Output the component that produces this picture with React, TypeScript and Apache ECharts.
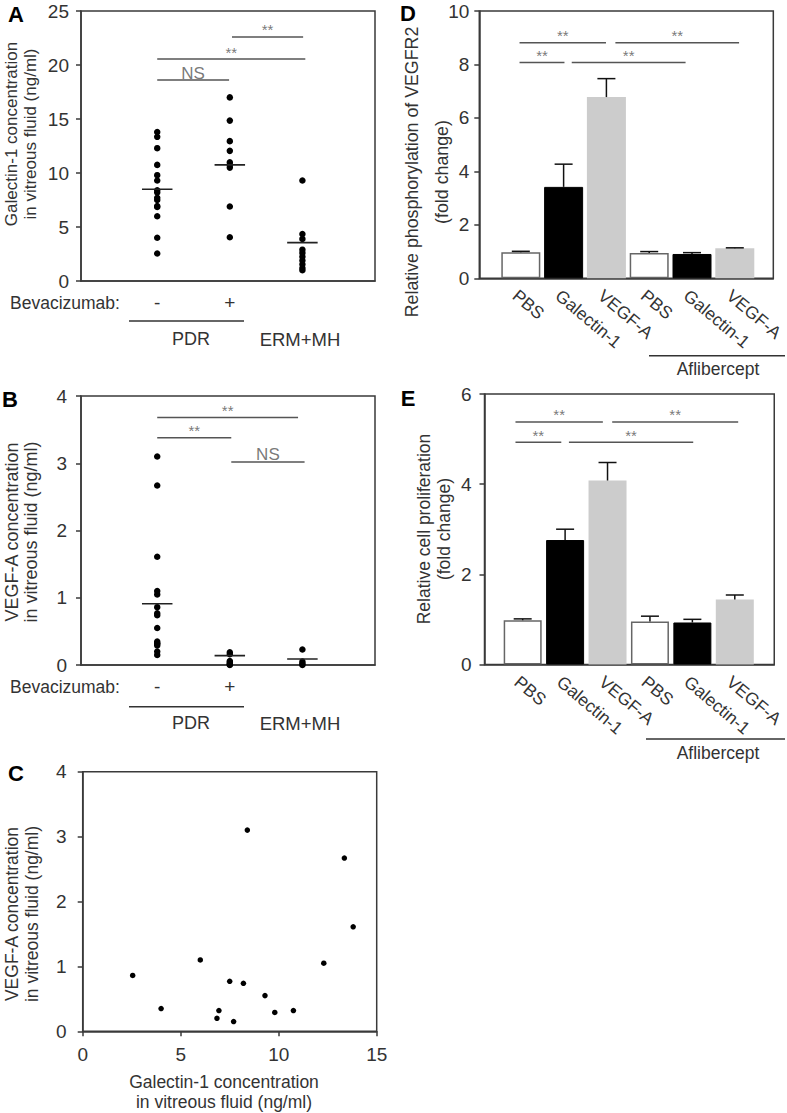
import React, { useEffect, useRef } from 'react';
import * as echarts from 'echarts';

const FONT = "'Liberation Sans', Arial, Helvetica, sans-serif";

// ---------- Panel A: Galectin-1 (ng/ml) ----------
const GROUP_POS = [1, 2, 3];
const BEV_POS = [1, 2];
const BEV_LABELS = ['-', '+'];
// Paired values (same PDR patients without bevacizumab) used in panels A/B/C
const C_GAL = [2.55, 4.0, 6.0, 6.85, 6.95, 7.5, 7.7, 8.2, 8.4, 9.3, 9.8, 10.75, 12.3, 13.35, 13.8];
const C_VEGF = [0.86, 0.35, 1.1, 0.2, 0.32, 0.77, 0.15, 0.74, 3.1, 0.55, 0.29, 0.32, 1.05, 2.67, 1.61];

const A_NO_BEV = C_GAL;
const A_BEV = [17.0, 14.85, 12.95, 12.05, 11.0, 10.75, 10.5, 6.9, 4.05];
const A_ERM = [9.3, 4.35, 3.9, 2.9, 2.6, 2.25, 1.9, 1.55, 1.2, 1.0];
const A_MEANS = [8.5, 10.75, 3.55];
const A_SIG_FROM = [1.0, 1.0, 2.03];
const A_SIG_TO = [1.99, 3.04, 3.01];
const A_SIG_Y = [18.6, 20.55, 22.6];
const A_SIG_TEXT = ['NS', '**', '**'];

// ---------- Panel B: VEGF-A (ng/ml) ----------
const B_NO_BEV = C_VEGF;
const B_BEV = [0.19, 0.16, 0.06, 0.04, 0.02, 0.01, 0.0];
const B_ERM = [0.23, 0.05, 0.02, 0.0];
const B_MEANS = [0.91, 0.14, 0.09];
const B_SIG_FROM = [1.0, 1.0, 2.02];
const B_SIG_TO = [2.94, 2.02, 3.03];
const B_SIG_Y = [3.68, 3.38, 3.02];
const B_SIG_TEXT = ['**', '**', 'NS'];

// ---------- Panels D / E ----------
const TREAT_POS = [1, 2, 3, 4, 5, 6];
const TREAT_LABELS = ['PBS', 'Galectin-1', 'VEGF-A', 'PBS', 'Galectin-1', 'VEGF-A'];
const TREAT_KIND = ['white', 'black', 'gray', 'white', 'black', 'gray'];

const D_MEAN = [0.97, 3.42, 6.78, 0.95, 0.91, 1.12];
const D_ERR_TOP = [1.01, 4.27, 7.47, 1.0, 0.96, 1.14];
const D_SIG_FROM = [0.97, 3.21, 0.97, 2.19];
const D_SIG_TO = [2.99, 6.1, 2.02, 4.85];
const D_SIG_Y = [8.81, 8.81, 8.07, 8.07];
const D_SIG_TEXT = ['**', '**', '**', '**'];

const E_MEAN = [0.98, 2.76, 4.08, 0.95, 0.93, 1.44];
const E_ERR_TOP = [1.01, 3.0, 4.48, 1.07, 1.0, 1.54];
const E_SIG_FROM = [0.83, 3.11, 0.83, 2.09];
const E_SIG_TO = [2.89, 6.08, 1.91, 5.02];
const E_SIG_Y = [5.38, 5.38, 4.93, 4.93];
const E_SIG_TEXT = ['**', '**', '**', '**'];

// ---------- styling ----------
const AXIS_COLOR = '#3a3a3a';
const TEXT_COLOR = '#333';
const SIG_COLOR = '#555';

const KIND_STYLE: Record<string, any> = {
  white: { color: '#ffffff', borderColor: '#666', borderWidth: 1.5 },
  black: { color: '#000000', borderColor: '#000', borderWidth: 1 },
  gray: { color: '#cccccc', borderWidth: 0 },
};

const axisLine = { show: true, onZero: false, lineStyle: { color: AXIS_COLOR, width: 1.5 } };
const tickOut = { show: true, inside: false, length: 5, lineStyle: { color: AXIS_COLOR, width: 1.5 } };
const labelBase = { color: TEXT_COLOR, fontSize: 19, fontFamily: FONT };

const pickLabel = (positions: number[], labels: string[]) => (v: number) => {
  const i = positions.findIndex((p) => Math.abs(p - v) < 1e-6);
  return i >= 0 ? labels[i] : '';
};

function sigSeries(ax: number, from: number[], to: number[], ys: number[], texts: string[]) {
  const out: any[] = [];
  from.forEach((f, i) => {
    out.push({
      type: 'line',
      xAxisIndex: ax,
      yAxisIndex: ax,
      data: [
        [f, ys[i]],
        [to[i], ys[i]],
      ],
      symbol: 'none',
      silent: true,
      clip: false,
      lineStyle: { color: SIG_COLOR, width: 1.5 },
      z: 4,
    });
    const isNS = texts[i] === 'NS';
    out.push({
      type: 'scatter',
      xAxisIndex: ax,
      yAxisIndex: ax,
      data: [[(f + to[i]) / 2, ys[i]]],
      symbolSize: 1,
      silent: true,
      itemStyle: { color: 'rgba(0,0,0,0)' },
      label: {
        show: true,
        position: 'top',
        distance: isNS ? -2 : -1,
        formatter: texts[i],
        color: SIG_COLOR,
        fontSize: isNS ? 17 : 15,
        fontFamily: FONT,
      },
      z: 4,
    });
  });
  return out;
}

function dotSeries(ax: number, groups: number[][], means: number[]) {
  const out: any[] = [];
  const data: number[][] = [];
  groups.forEach((vals, gi) => vals.forEach((v) => data.push([GROUP_POS[gi], v])));
  out.push({
    type: 'scatter',
    xAxisIndex: ax,
    yAxisIndex: ax,
    data,
    symbolSize: 6.5,
    itemStyle: { color: '#000', opacity: 1 },
    silent: true,
    z: 3,
  });
  means.forEach((m, gi) => {
    out.push({
      type: 'line',
      xAxisIndex: ax,
      yAxisIndex: ax,
      data: [
        [GROUP_POS[gi] - 0.21, m],
        [GROUP_POS[gi] + 0.21, m],
      ],
      symbol: 'none',
      silent: true,
      lineStyle: { color: '#222', width: 1.6 },
      z: 4,
    });
  });
  return out;
}

function barSeries(ax: number, means: number[], tops: number[], width: number) {
  return [
    {
      type: 'bar',
      xAxisIndex: ax,
      yAxisIndex: ax,
      barWidth: width,
      silent: true,
      data: TREAT_POS.map((p, i) => ({ value: [p, means[i]], itemStyle: KIND_STYLE[TREAT_KIND[i]] })),
      z: 2,
    },
    {
      type: 'custom',
      xAxisIndex: ax,
      yAxisIndex: ax,
      silent: true,
      encode: { x: 0, y: 1 },
      data: TREAT_POS.map((p, i) => [p, means[i], tops[i]]),
      renderItem: (params: any, api: any) => {
        const x = api.value(0);
        const p0 = api.coord([x, api.value(1)]);
        const p1 = api.coord([x, api.value(2)]);
        const st = { stroke: '#111', lineWidth: 1.5 };
        return {
          type: 'group',
          children: [
            { type: 'line', shape: { x1: p0[0], y1: p0[1], x2: p1[0], y2: p1[1] }, style: st },
            { type: 'line', shape: { x1: p1[0] - 9, y1: p1[1], x2: p1[0] + 9, y2: p1[1] }, style: st },
          ],
        };
      },
      z: 3,
    },
  ];
}

const gText = (
  x: number,
  y: number,
  text: string,
  size: number,
  opts: { rotation?: number; align?: string; lineHeight?: number; weight?: string; color?: string } = {}
) => ({
  type: 'text',
  x,
  y,
  rotation: opts.rotation || 0,
  silent: true,
  style: {
    text,
    fill: opts.color || TEXT_COLOR,
    fontSize: size,
    fontFamily: FONT,
    fontWeight: opts.weight || 'normal',
    align: opts.align || 'center',
    verticalAlign: 'middle',
    lineHeight: opts.lineHeight || size * 1.15,
  },
});

const gLine = (x1: number, y1: number, x2: number, y2: number) => ({
  type: 'line',
  silent: true,
  shape: { x1, y1, x2, y2 },
  style: { stroke: '#333', lineWidth: 1.5 },
});

function treatAxis(gridIndex: number, min: number, max: number) {
  return {
    gridIndex,
    type: 'value',
    min,
    max,
    splitNumber: 7,
    axisLine,
    axisTick: { show: false },
    splitLine: { show: false },
    axisLabel: {
      ...labelBase,
      fontSize: 17.5,
      rotate: -40,
      margin: 8,
      verticalAlign: 'top',
      customValues: TREAT_POS,
      formatter: pickLabel(TREAT_POS, TREAT_LABELS),
    },
  };
}

function groupAxis(gridIndex: number) {
  return {
    gridIndex,
    type: 'value',
    min: -0.05,
    max: 4,
    axisLine,
    axisTick: { show: false },
    splitLine: { show: false },
    axisLabel: { ...labelBase, margin: 12, customValues: BEV_POS, formatter: pickLabel(BEV_POS, BEV_LABELS) },
  };
}

function buildOption() {
  const grids = [
    { left: 81, top: 11, width: 294, height: 270 },
    { left: 81, top: 396, width: 294, height: 269 },
    { left: 82.7, top: 771.7, width: 294, height: 259.6 },
    { left: 479.3, top: 11, width: 299, height: 267.3 },
    { left: 484.5, top: 394, width: 292, height: 270.4 },
  ].map((g) => ({ ...g, show: true, borderColor: AXIS_COLOR, borderWidth: 1.5, containLabel: false }));

  const xAxis = [
    groupAxis(0),
    groupAxis(1),
    {
      gridIndex: 2,
      type: 'value',
      min: 0,
      max: 15,
      interval: 5,
      axisLine,
      axisTick: tickOut,
      splitLine: { show: false },
      axisLabel: { ...labelBase, margin: 14 },
    },
    treatAxis(3, 0.03, 6.9),
    treatAxis(4, 0.1, 6.93),
  ];

  const yAxis = [
    { gridIndex: 0, min: 0, max: 25, interval: 5, margin: 12 },
    { gridIndex: 1, min: 0, max: 4, interval: 1, margin: 14 },
    { gridIndex: 2, min: 0, max: 4, interval: 1, margin: 16 },
    { gridIndex: 3, min: 0, max: 10, interval: 2, margin: 10 },
    { gridIndex: 4, min: 0, max: 6, interval: 2, margin: 13 },
  ].map((a) => ({
    gridIndex: a.gridIndex,
    type: 'value',
    min: a.min,
    max: a.max,
    interval: a.interval,
    axisLine,
    axisTick: tickOut,
    splitLine: { show: false },
    axisLabel: { ...labelBase, margin: a.margin },
  }));

  const series: any[] = [
    ...dotSeries(0, [A_NO_BEV, A_BEV, A_ERM], A_MEANS),
    ...sigSeries(0, A_SIG_FROM, A_SIG_TO, A_SIG_Y, A_SIG_TEXT),
    ...dotSeries(1, [B_NO_BEV, B_BEV, B_ERM], B_MEANS),
    ...sigSeries(1, B_SIG_FROM, B_SIG_TO, B_SIG_Y, B_SIG_TEXT),
    {
      type: 'scatter',
      xAxisIndex: 2,
      yAxisIndex: 2,
      data: C_GAL.map((g, i) => [g, C_VEGF[i]]),
      symbolSize: 5.5,
      itemStyle: { color: '#000', opacity: 1 },
      silent: true,
    },
    ...barSeries(3, D_MEAN, D_ERR_TOP, 39),
    ...sigSeries(3, D_SIG_FROM, D_SIG_TO, D_SIG_Y, D_SIG_TEXT),
    ...barSeries(4, E_MEAN, E_ERR_TOP, 38),
    ...sigSeries(4, E_SIG_FROM, E_SIG_TO, E_SIG_Y, E_SIG_TEXT),
  ];

  const R = Math.PI / 2;
  const graphic = [
    // panel letters
    gText(16, 14.5, 'A', 22, { weight: 'bold', color: '#000' }),
    gText(10, 399.5, 'B', 22, { weight: 'bold', color: '#000' }),
    gText(16, 773.5, 'C', 22, { weight: 'bold', color: '#000' }),
    gText(408, 13, 'D', 22, { weight: 'bold', color: '#000' }),
    gText(408, 398.5, 'E', 22, { weight: 'bold', color: '#000' }),
    // axis titles
    gText(20.5, 134, 'Galectin-1 concentration\nin vitreous fluid (ng/ml)', 17, { rotation: R, lineHeight: 19 }),
    gText(21, 532, 'VEGF-A concentration\nin vitreous fluid (ng/ml)', 18, { rotation: R, lineHeight: 19 }),
    gText(22, 914, 'VEGF-A concentration\nin vitreous fluid (ng/ml)', 17.5, { rotation: R, lineHeight: 20.5 }),
    gText(224, 1091.7, 'Galectin-1 concentration\nin vitreous fluid (ng/ml)', 17.5, { lineHeight: 20 }),
    gText(427, 172, 'Relative phosphorylation of VEGFR2\n(fold change)', 17.8, { rotation: R, lineHeight: 30 }),
    gText(434, 529, 'Relative cell proliferation\n(fold change)', 17.5, { rotation: R, lineHeight: 20 }),
    // group labels A
    gText(10, 303, 'Bevacizumab:', 17.5, { align: 'left' }),
    gLine(129, 321, 244, 321),
    gText(191, 339, 'PDR', 18),
    gText(300, 339, 'ERM+MH', 18.5),
    // group labels B
    gText(10, 686.7, 'Bevacizumab:', 17.5, { align: 'left' }),
    gLine(129, 706.7, 244, 706.7),
    gText(191, 723, 'PDR', 18),
    gText(300, 723, 'ERM+MH', 18.5),
    // Aflibercept D / E
    gLine(649, 355.7, 785, 355.7),
    gText(718, 369, 'Aflibercept', 17.5),
    gLine(646, 739, 785, 739),
    gText(718, 753, 'Aflibercept', 17.5),
  ];

  return {
    animation: false,
    backgroundColor: '#ffffff',
    grid: grids,
    xAxis,
    yAxis,
    series,
    graphic,
  };
}

export default function App() {
  const ref = useRef<HTMLDivElement>(null);
  useEffect(() => {
    if (!ref.current) return;
    const chart = echarts.init(ref.current, null, { renderer: 'svg' });
    chart.setOption(buildOption() as any);
    return () => chart.dispose();
  }, []);
  return (
    <div
      ref={ref}
      style={{ position: 'absolute', left: 0, top: 0, width: 787, height: 1113, background: '#fff' }}
    />
  );
}
